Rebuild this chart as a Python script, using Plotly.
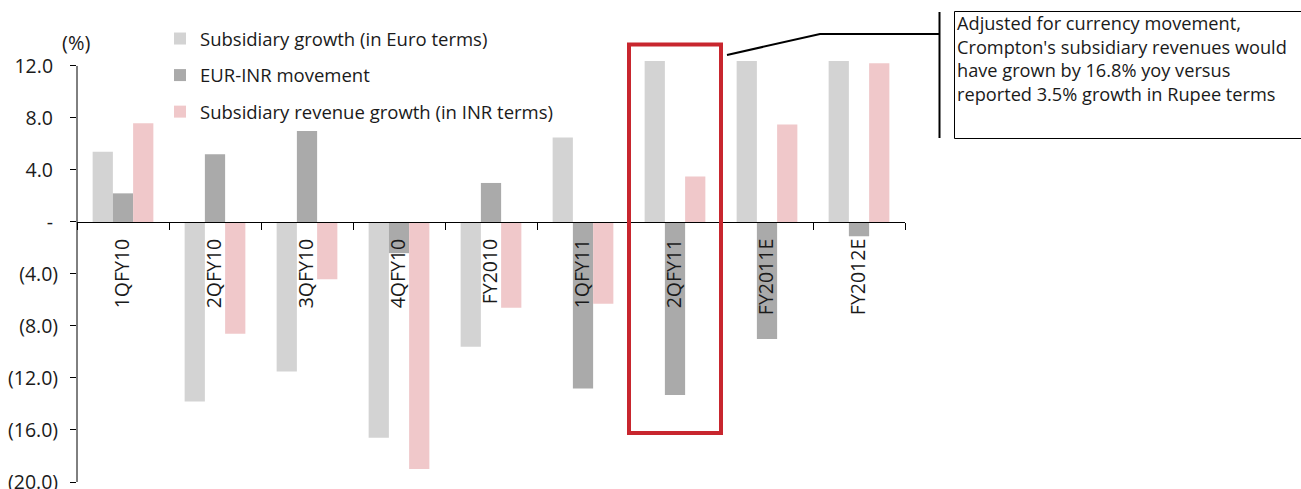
import plotly.graph_objects as go

# Quarterly / annual periods on the category axis
periods = ["1QFY10", "2QFY10", "3QFY10", "4QFY10", "FY2010",
           "1QFY11", "2QFY11", "FY2011E", "FY2012E"]

# Growth rates (%)
euro_growth = [5.4, -13.8, -11.5, -16.6, -9.6, 6.5, 16.8, 16.5, 13.3]
eur_inr_move = [2.2, 5.2, 7.0, -2.4, 3.0, -12.8, -13.3, -9.0, -1.1]
inr_growth = [7.6, -8.6, -4.4, -19.0, -6.6, -6.3, 3.5, 7.5, 12.2]

series_names = ["Subsidiary growth (in Euro terms)",
                "EUR-INR movement",
                "Subsidiary revenue growth (in INR terms)"]
series_colors = ["#D3D3D3", "#AAAAAA", "#F0C8CA"]

# Value axis ticks
y_tickvals = [12, 8, 4, 0, -4, -8, -12, -16, -20]
y_ticktext = ["12.0\u00a0", "8.0\u00a0", "4.0\u00a0", "-\u00a0", "(4.0)", "(8.0)",
              "(12.0)", "(16.0)", "(20.0)"]

callout_text = ("Adjusted for currency movement,<br>"
                "Crompton's subsidiary revenues would<br>"
                "have grown by 16.8% yoy versus<br>"
                "reported 3.5% growth in Rupee terms")

FONT = "Open Sans, Noto Sans, sans-serif"
TEXT_COLOR = "#1a1a1a"
FS = 18.5      # legend / callout text
FS_TICK = 19.5  # axis tick labels

W, H = 1301, 489
M_L, M_R, M_T, M_B = 77, 396, 61, 7
Y_MIN, Y_MAX = -20, 12.38

plot_w = W - M_L - M_R
plot_h = H - M_T - M_B


def px_x(px):
    return (px - M_L) / plot_w


def px_y(py):
    return (H - M_B - py) / plot_h


fig = go.Figure()
for i, (name, vals, col) in enumerate(zip(series_names,
                                          [euro_growth, eur_inr_move, inr_growth],
                                          series_colors)):
    fig.add_trace(go.Bar(x=periods, y=vals, name=name, marker_color=col,
                         marker_line_width=0, legendgroup=f"g{i}"))

fig.update_layout(
    width=W, height=H,
    margin=dict(l=M_L, r=M_R, t=M_T, b=M_B, pad=0, autoexpand=False),
    paper_bgcolor="white", plot_bgcolor="white",
    font=dict(family=FONT, size=FS, color=TEXT_COLOR),
    barmode="group", bargap=0.34, bargroupgap=0,
    legend=dict(x=px_x(160), y=px_y(20), xanchor="left", yanchor="top",
                bgcolor="rgba(0,0,0,0)", traceorder="grouped",
                tracegroupgap=9.5, font=dict(size=FS, color=TEXT_COLOR)),
    xaxis=dict(type="category", range=[-0.5, 8.5], anchor="free",
               position=(0 - Y_MIN) / (Y_MAX - Y_MIN), automargin=False,
               showline=True, linecolor="black", linewidth=1,
               ticks="outside", tickson="boundaries", ticklen=7,
               tickcolor="black", tickwidth=1, tickangle=-90,
               ticklabelstandoff=8, showgrid=False, zeroline=False,
               tickfont=dict(size=FS_TICK, color=TEXT_COLOR)),
    yaxis=dict(range=[Y_MIN, Y_MAX], showline=False, showgrid=False,
               zeroline=False, ticks="outside", ticklen=6, tickcolor="black",
               tickwidth=1, tickvals=y_tickvals, ticktext=y_ticktext,
               ticklabelstandoff=8, ticklabeloverflow="allow", automargin=False,
               tickfont=dict(size=FS_TICK, color=TEXT_COLOR)),
)

# Value axis line, stopping at the top tick
fig.add_shape(type="line", xref="paper", yref="y", x0=0, x1=0,
              y0=Y_MIN, y1=12, line=dict(color="black", width=1))

# Highlight box around 2QFY11
hi = periods.index("2QFY11")
fig.add_shape(type="rect", xref="x", yref="paper", x0=hi - 0.5, x1=hi + 0.5,
              y0=px_y(433), y1=px_y(44.5),
              line=dict(color="#C8262E", width=4), fillcolor="rgba(0,0,0,0)")

# Callout leader line
fig.add_shape(type="path", xref="paper", yref="paper",
              path=(f"M {px_x(727)},{px_y(55)} L {px_x(820)},{px_y(34)} "
                    f"L {px_x(939)},{px_y(34)}"),
              line=dict(color="black", width=2))
fig.add_shape(type="line", xref="paper", yref="paper",
              x0=px_x(939.5), x1=px_x(939.5), y0=px_y(12), y1=px_y(138),
              line=dict(color="black", width=2))

# Callout box and text
fig.add_shape(type="rect", xref="paper", yref="paper",
              x0=px_x(954.5), x1=px_x(1310), y0=px_y(138.5), y1=px_y(11.5),
              line=dict(color="black", width=1), fillcolor="rgba(0,0,0,0)")
fig.add_annotation(xref="paper", yref="paper", x=px_x(955), y=px_y(9.5),
                   xanchor="left", yanchor="top", align="left", showarrow=False,
                   text=callout_text, font=dict(size=18.2, color=TEXT_COLOR))

# Unit label above the value axis
fig.add_annotation(xref="paper", yref="paper", x=px_x(92), y=px_y(42),
                   xanchor="right", yanchor="middle", showarrow=False,
                   text="(%)", font=dict(size=20, color=TEXT_COLOR))

fig.write_html("out.html")
